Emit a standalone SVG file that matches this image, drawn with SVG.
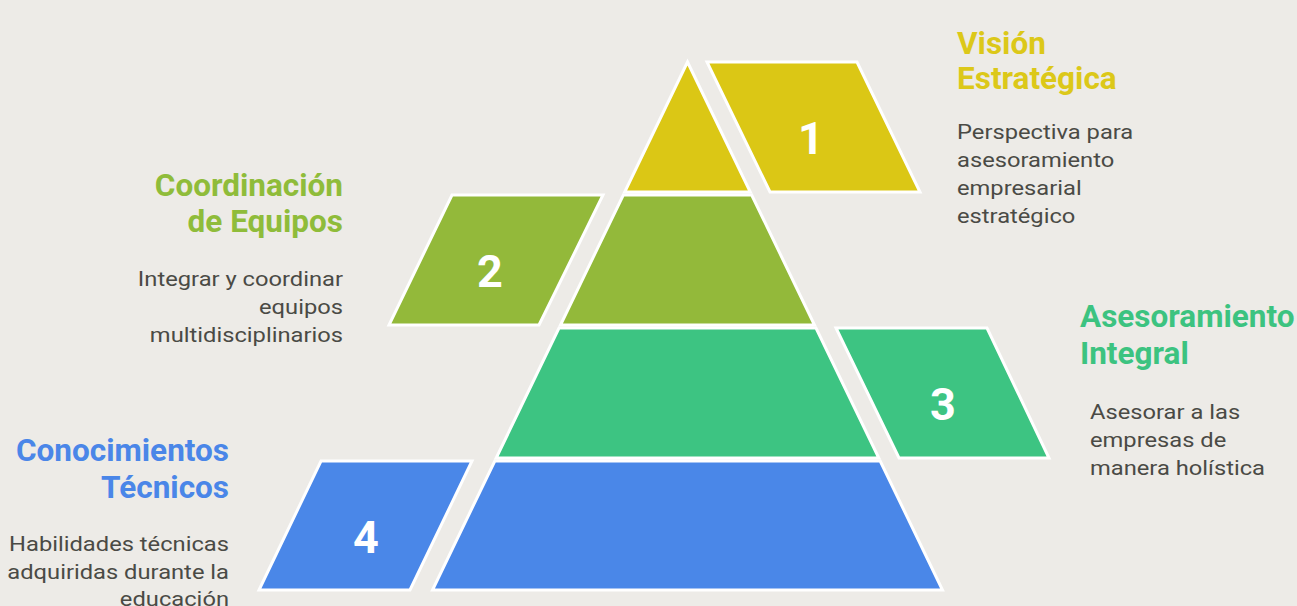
<svg xmlns="http://www.w3.org/2000/svg" width="1297" height="606" viewBox="0 0 1297 606">
<style>
.bg{fill:#EDEBE7}
.sh{stroke:#FFFFFF;stroke-width:3;stroke-linejoin:miter}
.y{fill:#DBC715}
.g{fill:#93B93A}
.t{fill:#3DC482}
.b{fill:#4A87E8}
.num{font-family:Roboto,"Liberation Sans",sans-serif;font-weight:700;font-size:45px;fill:#FFFFFF;text-anchor:middle}
.ti{font-family:Roboto,"Liberation Sans",sans-serif;font-weight:700;font-size:31.5px}
.bd{font-family:Roboto,"Liberation Sans",sans-serif;font-size:21px;fill:#4A4A45}
.ty{fill:#DCC819}.tg{fill:#8FBC3A}.tt{fill:#3CC380}.tb{fill:#4A86E8}
.r{text-anchor:end}
</style>
<rect class="bg" x="0" y="0" width="1297" height="606"/>
<g id="level1">
<polygon class="sh y" points="687.5,62 750.3,192 624.7,192"/>
<polygon class="sh y" points="707,62 857,62 920,192 770,192"/>
<text class="num" x="811" y="154">1</text>
</g>
<g id="level2">
<polygon class="sh g" points="623.3,195 751.7,195 814.5,325 560.5,325"/>
<polygon class="sh g" points="452,195 603,195 539,325 389,325"/>
<text class="num" x="490" y="287">2</text>
</g>
<g id="level3">
<polygon class="sh t" points="559,328 816,328 878.8,458 496.2,458"/>
<polygon class="sh t" points="836,328 987,328 1049,458 899,458"/>
<text class="num" x="943" y="420">3</text>
</g>
<g id="level4">
<polygon class="sh b" points="494.8,461 880.2,461 942.5,590 432.5,590"/>
<polygon class="sh b" points="321,461 472,461 410,590 259,590"/>
<text class="num" x="366" y="553">4</text>
</g>
<g id="label1">
<text class="ti ty" x="957" y="54">Visión</text>
<text class="ti ty" x="957" y="89">Estratégica</text>
<g transform="translate(957,0) scale(1.13,1)">
<text class="bd" x="0" y="139">Perspectiva para</text>
<text class="bd" x="0" y="167">asesoramiento</text>
<text class="bd" x="0" y="195">empresarial</text>
<text class="bd" x="0" y="223">estratégico</text>
</g>
</g>
<g id="label2">
<text class="ti tg r" x="343" y="196">Coordinación</text>
<text class="ti tg r" x="343" y="232">de Equipos</text>
<g transform="translate(343,0) scale(1.13,1)">
<text class="bd r" x="0" y="286">Integrar y coordinar</text>
<text class="bd r" x="0" y="314">equipos</text>
<text class="bd r" x="0" y="342">multidisciplinarios</text>
</g>
</g>
<g id="label3">
<text class="ti tt" x="1080" y="327">Asesoramiento</text>
<text class="ti tt" x="1080" y="364">Integral</text>
<g transform="translate(1090,0) scale(1.13,1)">
<text class="bd" x="0" y="419">Asesorar a las</text>
<text class="bd" x="0" y="447">empresas de</text>
<text class="bd" x="0" y="475">manera holística</text>
</g>
</g>
<g id="label4">
<text class="ti tb r" x="229" y="461">Conocimientos</text>
<text class="ti tb r" x="229" y="498">Técnicos</text>
<g transform="translate(229,0) scale(1.13,1)">
<text class="bd r" x="0" y="551">Habilidades técnicas</text>
<text class="bd r" x="0" y="579">adquiridas durante la</text>
<text class="bd r" x="0" y="606">educación</text>
</g>
</g>
<g id="connectors"></g>
</svg>
